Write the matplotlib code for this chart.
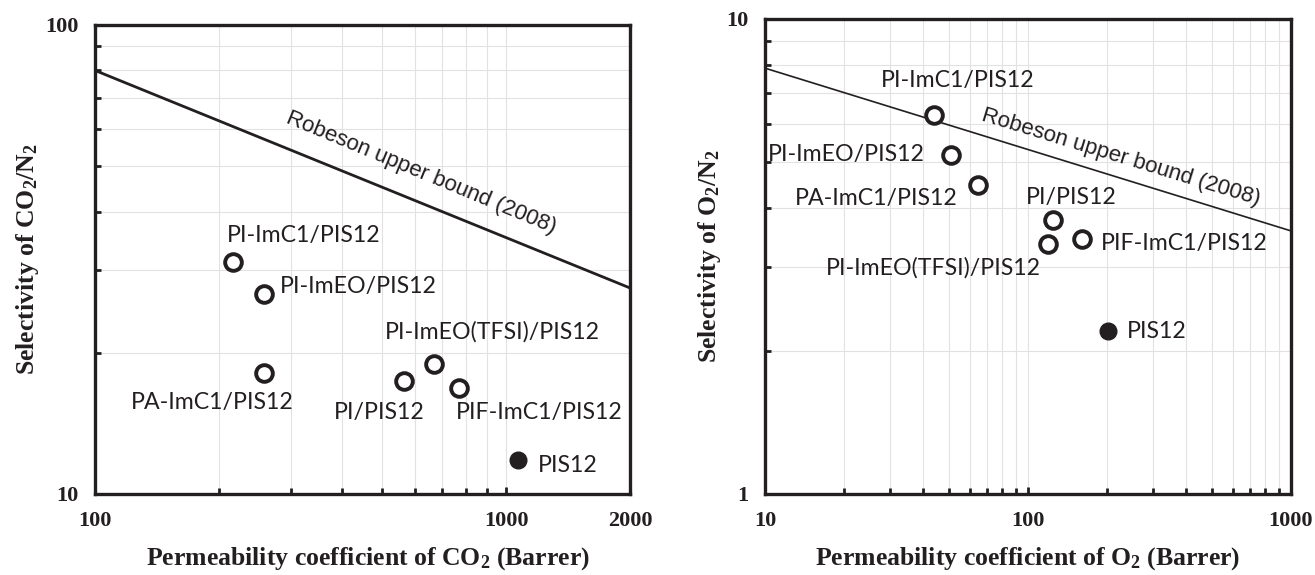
import matplotlib
matplotlib.use("Agg")
import matplotlib.pyplot as plt
from matplotlib.ticker import LogLocator, NullFormatter, FixedLocator, FixedFormatter

plt.rcParams["mathtext.default"] = "regular"

# CO2/N2 data (left panel)
co2_names = ["PI-ImC1/PIS12", "PI-ImEO/PIS12", "PA-ImC1/PIS12", "PI/PIS12",
             "PI-ImEO(TFSI)/PIS12", "PIF-ImC1/PIS12"]
co2_perm = [217, 258, 258, 563, 669, 769]
co2_sel = [31.3, 26.7, 18.1, 17.4, 18.9, 16.8]
co2_pis12 = [1070, 11.8]
co2_robeson_x = [100, 2000]
co2_robeson_y = [80, 27.5]

# O2/N2 data (right panel)
o2_names = ["PI-ImC1/PIS12", "PI-ImEO/PIS12", "PA-ImC1/PIS12", "PI/PIS12",
            "PI-ImEO(TFSI)/PIS12", "PIF-ImC1/PIS12"]
o2_perm = [43.9, 50.8, 64.7, 124, 119.6, 160]
o2_sel = [6.27, 5.18, 4.48, 3.77, 3.36, 3.45]
o2_pis12 = [201, 2.20]
o2_robeson_x = [10, 1000]
o2_robeson_y = [7.88, 3.58]

# label anchors (x, y, ha)
co2_lab = [(209, 35.5, "left"), (281, 27.7, "left"), (122, 15.7, "left"),
           (381, 14.9, "left"), (506, 22.2, "left"), (756, 14.9, "left")]
o2_lab = [(27.7, 7.41, "left"), (40.6, 5.18, "right"), (53.9, 4.18, "right"),
          (97.8, 4.21, "left"), (112.4, 3.0, "right"), (189, 3.36, "left")]

INK = "#231f20"
SERIF = "Liberation Serif"
LAB = "Lato"
LABSIZE = 16.7

fig = plt.figure(figsize=(13.15, 5.75), dpi=100)
ax1 = fig.add_axes([0.0722, 0.1409, 0.4068, 0.8157])
ax2 = fig.add_axes([0.5817, 0.1409, 0.4000, 0.8261])


def style_axis(ax, xlim, ylim, xt, yt):
    ax.set_xscale("log")
    ax.set_yscale("log")
    ax.set_xlim(*xlim)
    ax.set_ylim(*ylim)
    ax.xaxis.set_major_locator(FixedLocator(xt))
    ax.xaxis.set_major_formatter(FixedFormatter([str(v) for v in xt]))
    ax.yaxis.set_major_locator(FixedLocator(yt))
    ax.yaxis.set_major_formatter(FixedFormatter([str(v) for v in yt]))
    ax.xaxis.set_minor_locator(LogLocator(base=10, subs=range(2, 10)))
    ax.yaxis.set_minor_locator(LogLocator(base=10, subs=range(2, 10)))
    ax.xaxis.set_minor_formatter(NullFormatter())
    ax.yaxis.set_minor_formatter(NullFormatter())
    ax.grid(True, which="both", color="#e2e2e2", lw=0.8, zorder=0)
    ax.set_axisbelow(True)
    ax.tick_params(which="both", direction="in", width=2, color=INK,
                   top=False, right=False)
    ax.tick_params(which="major", length=5, pad=12, labelsize=16,
                   labelcolor=INK)
    ax.tick_params(which="minor", length=4)
    for lbl in ax.get_xticklabels() + ax.get_yticklabels():
        lbl.set_fontfamily(SERIF)
        lbl.set_fontweight("bold")
    for s in ax.spines.values():
        s.set_linewidth(2.4)
        s.set_color(INK)


style_axis(ax1, (100, 2000), (10, 100), [100, 1000, 2000], [10, 100])
style_axis(ax2, (10, 1000), (1, 10), [10, 100, 1000], [1, 10])

# left panel
ax1.plot(co2_robeson_x, co2_robeson_y, color=INK, lw=2.0, zorder=2)
ax1.plot(co2_perm, co2_sel, "o", ms=12, mfc="white", mec=INK, mew=2.8,
         zorder=3)
ax1.plot(co2_pis12[0], co2_pis12[1], "o", ms=12, color=INK, zorder=3)
for name, (x, y, ha) in zip(co2_names, co2_lab):
    ax1.text(x, y, name, ha=ha, va="center", fontsize=LABSIZE, family=LAB,
             color=INK)
ax1.text(co2_pis12[0] * 1.115, co2_pis12[1] * 0.975, "PIS12", ha="left",
         va="center", fontsize=LABSIZE, family=LAB, color=INK)
ax1.text(622, 48.5, "Robeson upper bound (2008)", rotation=-22.5,
         ha="center", va="center", fontsize=16, family="Liberation Sans",
         color=INK)
ax1.set_xlabel("Permeability coefficient of CO$_2$ (Barrer)",
               family=SERIF, fontweight="bold", fontsize=18.5, color=INK)
ax1.set_ylabel("Selectivity of CO$_2$/N$_2$", family=SERIF,
               fontweight="bold", fontsize=18.5, color=INK)
ax1.xaxis.label.set_va("center")
ax1.yaxis.label.set_va("center")
ax1.xaxis.set_label_coords(0.51, -0.138)
ax1.yaxis.set_label_coords(-0.127, 0.5)

# right panel
ax2.plot(o2_robeson_x, o2_robeson_y, color=INK, lw=1.2, zorder=2)
ax2.plot(o2_perm, o2_sel, "o", ms=12, mfc="white", mec=INK, mew=2.8,
         zorder=3)
ax2.plot(o2_pis12[0], o2_pis12[1], "o", ms=12, color=INK, zorder=3)
for name, (x, y, ha) in zip(o2_names, o2_lab):
    ax2.text(x, y, name, ha=ha, va="center", fontsize=LABSIZE, family=LAB,
             color=INK)
ax2.text(o2_pis12[0] * 1.18, o2_pis12[1], "PIS12", ha="left", va="center",
         fontsize=LABSIZE, family=LAB, color=INK)
ax2.text(226, 5.1, "Robeson upper bound (2008)", rotation=-17,
         ha="center", va="center", fontsize=16, family="Liberation Sans",
         color=INK)
ax2.set_xlabel("Permeability coefficient of O$_2$ (Barrer)",
               family=SERIF, fontweight="bold", fontsize=18.5, color=INK)
ax2.set_ylabel("Selectivity of O$_2$/N$_2$", family=SERIF,
               fontweight="bold", fontsize=18.5, color=INK)
ax2.xaxis.label.set_va("center")
ax2.yaxis.label.set_va("center")
ax2.xaxis.set_label_coords(0.5, -0.137)
ax2.yaxis.set_label_coords(-0.106, 0.5)

fig.savefig("out.png", dpi=100)
